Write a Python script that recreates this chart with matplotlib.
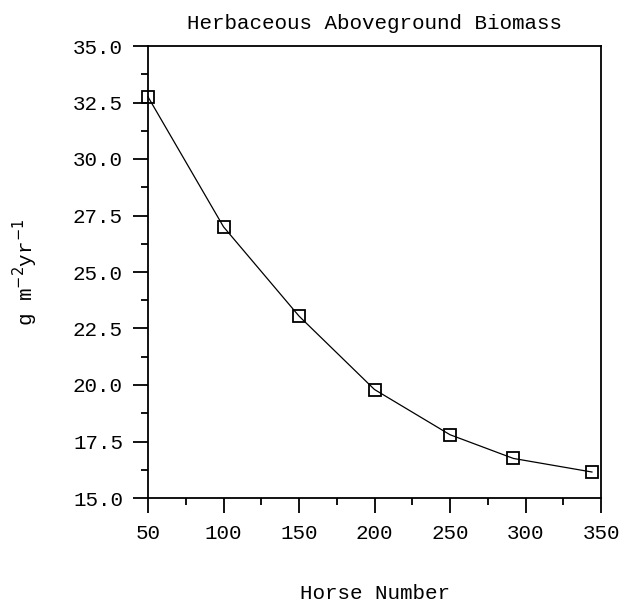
import numpy as np
import matplotlib.pyplot as plt
from matplotlib.ticker import MultipleLocator, FormatStrFormatter

# Данные
horses = [50, 100, 150, 200, 250, 292, 344]
biomass = [32.75, 27.0, 23.05, 19.8, 17.8, 16.75, 16.15]

plt.rcParams['font.family'] = ['Liberation Mono', 'DejaVu Sans Mono']
plt.rcParams['font.size'] = 15

fig = plt.figure(figsize=(6.23, 6.03), dpi=100)
ax = fig.add_axes([148 / 623, 1 - 498 / 603, 453 / 623, 452 / 603])

ax.plot(horses, biomass, color='black', linewidth=0.9,
        marker='s', markersize=9, markerfacecolor='none',
        markeredgecolor='black', markeredgewidth=1.3, clip_on=False)

ax.set_xlim(50, 350)
ax.set_ylim(15, 35)
ax.xaxis.set_major_locator(MultipleLocator(50))
ax.xaxis.set_minor_locator(MultipleLocator(25))
ax.yaxis.set_major_locator(MultipleLocator(2.5))
ax.yaxis.set_minor_locator(MultipleLocator(1.25))
ax.yaxis.set_major_formatter(FormatStrFormatter('%.1f'))

ax.tick_params(which='major', direction='out', length=11, width=1.3,
               top=False, right=False, pad=7)
ax.tick_params(which='minor', direction='out', length=5, width=1.3,
               top=False, right=False)
ax.tick_params(axis='x', which='major', pad=8)
for s in ax.spines.values():
    s.set_linewidth(1.3)

ax.set_title("Herbaceous Aboveground Biomass", fontsize=15, pad=12)
ax.set_xlabel("Horse Number", fontsize=15, labelpad=29)
ax.set_ylabel(r"g m$^{-2}$yr$^{-1}$", fontsize=15, labelpad=24)

fig.savefig("out.png", dpi=100)
